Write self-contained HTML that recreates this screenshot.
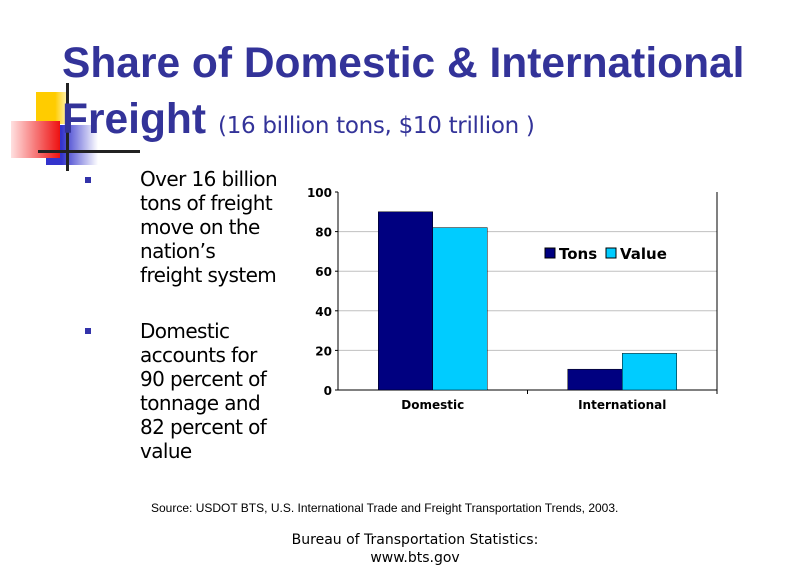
<!DOCTYPE html>
<html><head><meta charset="utf-8"><style>
body{margin:0;width:792px;height:576px;background:#fff;position:relative;overflow:hidden;font-family:"Liberation Sans",sans-serif}
.abs{position:absolute}
.bl{position:absolute;left:140px;font-size:20px;line-height:24px;color:#000;font-family:"DejaVu Sans","Liberation Sans",sans-serif;letter-spacing:-0.6px}
.bsq{position:absolute;left:85px;width:6px;height:6px;background:#3333aa}
</style></head><body>
<div class="abs" style="left:36px;top:92px;width:32px;height:32px;background:linear-gradient(90deg,#ffcc00 60%,#fff6c0)"></div>
<div class="abs" style="left:46px;top:125px;width:52px;height:40px;background:linear-gradient(90deg,#3333cc 30%,#fff)"></div>
<div class="abs" style="left:11px;top:121px;width:49px;height:37px;background:linear-gradient(270deg,#ee1111,#ffe0e0)"></div>
<div class="abs" style="left:66px;top:83px;width:3px;height:88px;background:#222"></div>
<div class="abs" style="left:38px;top:150px;width:102px;height:3px;background:#222"></div>
<div class="abs" style="left:62px;top:36px;font-size:42.5px;font-weight:bold;color:#333399;line-height:56px;white-space:nowrap;font-family:'Liberation Sans',sans-serif">Share of Domestic &amp; International<br>Freight<span style="font-weight:normal;font-size:23px;letter-spacing:-0.3px;font-family:'DejaVu Sans','Liberation Sans',sans-serif;margin-left:12px">(16 billion tons, $10 trillion )</span></div>
<div class="bsq" style="top:177px"></div>
<div class="bl" style="top:167px">Over 16 billion<br>tons of freight<br>move on the<br>nation’s<br>freight system</div>
<div class="bsq" style="top:328px"></div>
<div class="bl" style="top:319px">Domestic<br>accounts for<br>90 percent of<br>tonnage and<br>82 percent of<br>value</div>
<svg class="abs" style="left:0;top:0" width="792" height="576" id="chart"></svg>
<div class="abs" style="left:151px;top:501px;font-size:12px;color:#000;white-space:nowrap">Source: USDOT BTS, U.S. International Trade and Freight Transportation Trends, 2003.</div>
<div class="abs" style="left:265px;width:300px;top:531px;text-align:center;font-size:14px;line-height:18px;font-family:'DejaVu Sans','Liberation Sans',sans-serif">Bureau of Transportation Statistics:<br>www.bts.gov</div>
<script>
const categories=["Domestic","International"];
const tons=[90,10.5];
const values=[82,18.5];
const ticks=[0,20,40,60,80,100];
const svg=document.getElementById('chart');const NS='http://www.w3.org/2000/svg';
const L=338,R=717,T=192,B=390;
const y=v=>B-(v/100)*(B-T);
const cw=(R-L)/categories.length;
function mk(t,a,txt){const e=document.createElementNS(NS,t);for(const k in a)e.setAttribute(k,a[k]);if(txt!=null)e.textContent=txt;svg.appendChild(e);return e;}
ticks.forEach(t=>{
 if(t>0&&t<100){const g=mk('line',{x1:L,x2:R,y1:y(t),y2:y(t),stroke:'#c0c0c0'});
 
 }
 const lb=mk('text',{x:L-6,y:y(t)+5,'text-anchor':'end','font-size':'12','font-weight':'bold','font-family':'DejaVu Sans, Liberation Sans, sans-serif'},t);
 
 
 mk('line',{x1:L-3,x2:L,y1:y(t),y2:y(t),stroke:'#000'});
});
mk('line',{x1:L,x2:L,y1:T,y2:B,stroke:'#000'});
mk('line',{x1:R,x2:R,y1:T,y2:B,stroke:'#000'});
mk('line',{x1:L,x2:R,y1:B,y2:B,stroke:'#000'});
categories.forEach((c,i)=>{
 const cx=L+cw*(i+0.5);const bw=54.5;
 const b1=mk('rect',{x:cx-bw,y:y(tons[i]),width:bw,height:B-y(tons[i]),fill:'#000080',stroke:'#000',"stroke-width":0.5});
 
 
 const b2=mk('rect',{x:cx,y:y(values[i]),width:bw,height:B-y(values[i]),fill:'#00ccff',stroke:'#000',"stroke-width":0.5});
 
 
 mk('line',{x1:L+cw*(i+1),x2:L+cw*(i+1),y1:B,y2:B+4,stroke:'#000'});
 const t=mk('text',{x:cx,y:B+19,'text-anchor':'middle','font-size':'12','font-weight':'bold','font-family':'DejaVu Sans, Liberation Sans, sans-serif'},c);
 
 
});
const lg1=mk('rect',{x:545,y:248,width:10,height:10,fill:'#000080',stroke:'#000'});


const lt1=mk('text',{x:559,y:259,'font-size':'15','font-weight':'bold','font-family':'DejaVu Sans, Liberation Sans, sans-serif'},'Tons');


const lg2=mk('rect',{x:606,y:248,width:10,height:10,fill:'#00ccff',stroke:'#000'});


const lt2=mk('text',{x:620,y:259,'font-size':'15','font-weight':'bold','font-family':'DejaVu Sans, Liberation Sans, sans-serif'},'Value');


</script>
</body></html>
